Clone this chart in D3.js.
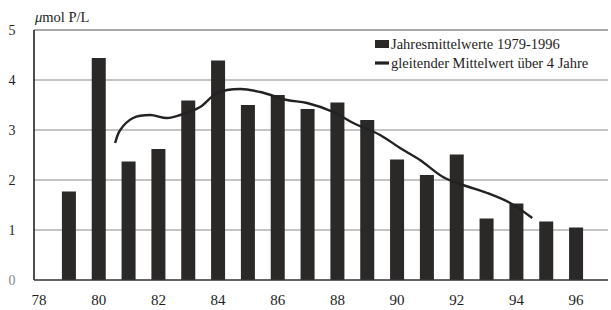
<!DOCTYPE html>
<html>
<head>
<meta charset="utf-8">
<script src="https://cdn.jsdelivr.net/npm/d3@7"></script>
<style>
  body { margin: 0; background: #fff; }
  text { font-family: "Liberation Serif", "DejaVu Serif", serif; fill: #1e1e1e; }
</style>
</head>
<body>
<svg id="chart" width="611" height="310"></svg>
<script>
// yearly means 1979-1996 (µmol P/L)
const years = [79, 80, 81, 82, 83, 84, 85, 86, 87, 88, 89, 90, 91, 92, 93, 94, 95, 96];
const yearValues = [1.77, 4.44, 2.37, 2.62, 3.59, 4.39, 3.5, 3.7, 3.42, 3.55, 3.2, 2.41, 2.1, 2.51, 1.23, 1.53, 1.17, 1.05];

// 4-year moving average
const avgYears = [80.55, 80.72, 81.15, 81.72, 82.29, 82.73, 83.4, 83.97, 84.74, 85.41, 86.31, 86.98, 87.86, 88.53, 89.43, 90.1, 90.77, 91.54, 92.21, 93.02, 93.79, 94.53];
const avgValues = [2.74, 3.0, 3.24, 3.3, 3.24, 3.3, 3.46, 3.74, 3.82, 3.76, 3.6, 3.54, 3.36, 3.14, 2.9, 2.64, 2.4, 2.06, 1.9, 1.74, 1.54, 1.24];

const xTicks = [78, 80, 82, 84, 86, 88, 90, 92, 94, 96];
const yTicks = [0, 1, 2, 3, 4, 5];
const legendLabels = ['Jahresmittelwerte 1979-1996', 'gleitender Mittelwert über 4 Jahre'];

const svg = d3.select('#chart');
const plotLeft = 34, plotRight = 608, plotTop = 30, plotBottom = 280;

const x = d3.scaleLinear().domain([77.83, 97.07]).range([plotLeft, plotRight]);
const y = d3.scaleLinear().domain([0, 5]).range([plotBottom, plotTop]);

// gridlines
svg.append('g')
  .selectAll('line')
  .data(yTicks.filter(d => d > 0))
  .enter().append('line')
  .attr('x1', plotLeft).attr('x2', plotRight)
  .attr('y1', d => y(d)).attr('y2', d => y(d))
  .attr('stroke', d => d === 5 ? '#555' : '#8a8a8a')
  .attr('stroke-width', 1.2);

// bars
const barWidth = 14;
svg.append('g')
  .selectAll('rect')
  .data(years)
  .enter().append('rect')
  .attr('x', (d) => x(d) - barWidth / 2)
  .attr('width', barWidth)
  .attr('y', (d, i) => y(yearValues[i]))
  .attr('height', (d, i) => plotBottom - y(yearValues[i]))
  .attr('fill', '#2b2828');

// moving average line
const line = d3.line()
  .x((d, i) => x(avgYears[i]))
  .y((d, i) => y(avgValues[i]))
  .curve(d3.curveCatmullRom);

svg.append('path')
  .datum(avgYears)
  .attr('d', line)
  .attr('fill', 'none')
  .attr('stroke', '#222')
  .attr('stroke-width', 2.4);

// axes
svg.append('line')
  .attr('x1', plotLeft).attr('x2', plotLeft)
  .attr('y1', plotTop).attr('y2', plotBottom)
  .attr('stroke', '#222').attr('stroke-width', 1.6);
svg.append('line')
  .attr('x1', plotLeft).attr('x2', plotRight)
  .attr('y1', plotBottom).attr('y2', plotBottom)
  .attr('stroke', '#333').attr('stroke-width', 1.6);

svg.append('g')
  .selectAll('text')
  .data(yTicks)
  .enter().append('text')
  .attr('x', 12)
  .attr('y', d => y(d) + 5)
  .attr('text-anchor', 'middle')
  .style('font-size', '14px')
  .style('fill', d => d === 0 ? '#888' : '#1e1e1e')
  .text(d => d);

svg.append('g')
  .selectAll('text')
  .data(xTicks)
  .enter().append('text')
  .attr('x', d => x(d))
  .attr('y', 305)
  .attr('text-anchor', 'middle')
  .style('font-size', '15px')
  .text(d => d);

// unit label
const unit = svg.append('text')
  .attr('x', 35)
  .attr('y', 22)
  .style('font-size', '14.5px');
unit.append('tspan').style('font-style', 'italic').text('μ');
unit.append('tspan').text('mol P/L');

// legend
const legend = svg.append('g');
legend.append('rect')
  .attr('x', 375).attr('y', 40)
  .attr('width', 14).attr('height', 8)
  .attr('fill', '#2b2828');
legend.append('line')
  .attr('x1', 375).attr('x2', 389)
  .attr('y1', 63).attr('y2', 63)
  .attr('stroke', '#222').attr('stroke-width', 3.2);
legend.selectAll('text.leg')
  .data(legendLabels)
  .enter().append('text')
  .attr('class', 'leg')
  .attr('x', 391)
  .attr('y', (d, i) => 49 + i * 19)
  .style('font-size', '14.5px')
  .text(d => d);
</script>
</body>
</html>
